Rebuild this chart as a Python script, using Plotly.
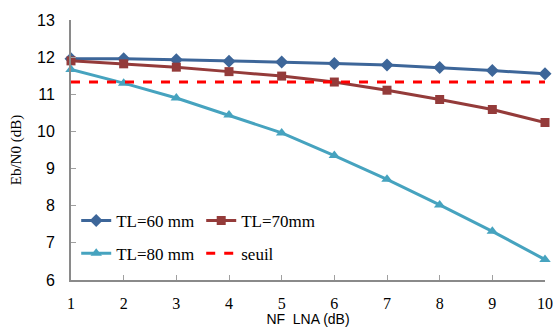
import plotly.graph_objects as go

nf = [1, 2, 3, 4, 5, 6, 7, 8, 9, 10]
tl60 = [11.96, 11.96, 11.93, 11.89, 11.87, 11.83, 11.79, 11.72, 11.64, 11.55]
tl70 = [11.90, 11.82, 11.73, 11.61, 11.49, 11.33, 11.11, 10.86, 10.59, 10.24]
tl80 = [11.67, 11.30, 10.90, 10.44, 9.96, 9.35, 8.71, 8.02, 7.31, 6.55]
seuil = [11.33] * 10
y_ticks = [6, 7, 8, 9, 10, 11, 12, 13]

serif = "Liberation Serif, Times New Roman, serif"
sans = "Liberation Sans, Arial, sans-serif"

fig = go.Figure()
fig.add_trace(go.Scatter(x=nf, y=tl60, name="TL=60 mm", mode="lines+markers", legend="legend",
                         cliponaxis=False,
                         line=dict(color="#3D6699", width=3),
                         marker=dict(symbol="diamond", size=10, color="#3D6699")))
fig.add_trace(go.Scatter(x=nf, y=tl70, name="TL=70mm", mode="lines+markers", legend="legend",
                         cliponaxis=False,
                         line=dict(color="#943B3A", width=3),
                         marker=dict(symbol="square", size=9, color="#943B3A")))
fig.add_trace(go.Scatter(x=nf, y=tl80, name="TL=80 mm", mode="lines+markers", legend="legend2",
                         cliponaxis=False,
                         line=dict(color="#46A3BF", width=3),
                         marker=dict(symbol="triangle-up", size=10, color="#46A3BF")))
fig.add_trace(go.Scatter(x=nf, y=seuil, name="seuil", mode="lines", legend="legend2",
                         line=dict(color="#FF0000", width=3, dash="dash")))

leg = dict(orientation="h", x=0.011, xanchor="left", yanchor="top",
           entrywidth=80, bgcolor="rgba(0,0,0,0)",
           font=dict(family=serif, size=17, color="black"))

fig.update_layout(
    width=553, height=327,
    margin=dict(l=71, r=8, t=20, b=47, autoexpand=False),
    paper_bgcolor="white", plot_bgcolor="white",
    showlegend=True,
    legend=dict(leg, y=0.2965),
    legend2=dict(leg, y=0.17),
    xaxis=dict(range=[1, 10], tickvals=nf, showgrid=False, zeroline=False, automargin=False,
               showline=True, linecolor="#8A8A8A", linewidth=2,
               ticks="inside", ticklen=5, tickcolor="#A0A0A0", tickwidth=1,
               ticklabelstandoff=8,
               tickfont=dict(family=serif, size=16, color="black"),
               title=dict(text="NF  LNA (dB)", font=dict(family=sans, size=14, color="black"),
                          standoff=2)),
    yaxis=dict(range=[6, 13], tickvals=y_ticks, showgrid=False, zeroline=False, automargin=False,
               showline=True, linecolor="#8A8A8A", linewidth=2,
               ticks="inside", ticklen=5, tickcolor="#A0A0A0", tickwidth=1,
               ticklabelstandoff=11,
               tickfont=dict(family=sans, size=16, color="black"),
               title=dict(text="Eb/N0 (dB)", font=dict(family=serif, size=15, color="black"),
                          standoff=12)),
)
fig.write_html("out.html", config={"displayModeBar": False},
               post_script="document.body.style.margin='0';document.body.style.overflow='hidden';")
